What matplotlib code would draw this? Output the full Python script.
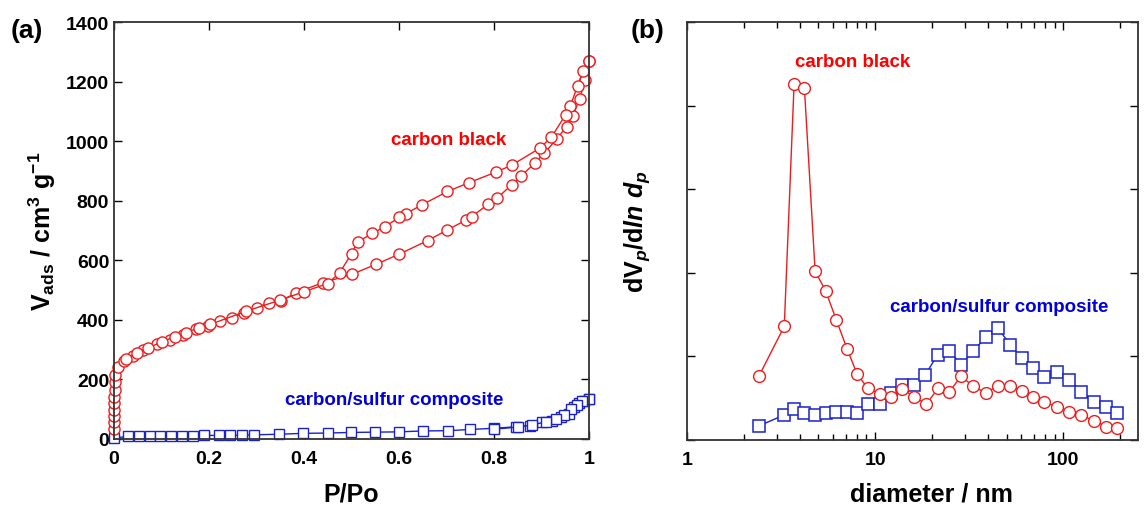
import matplotlib
matplotlib.use("Agg")
import matplotlib.pyplot as plt
from matplotlib.ticker import MultipleLocator, FixedLocator, NullFormatter, LogLocator

plt.rcParams['font.family'] = ['Liberation Sans', 'DejaVu Sans']
plt.rcParams['font.weight'] = 'bold'
plt.rcParams['mathtext.fontset'] = 'custom'
plt.rcParams['mathtext.rm'] = 'Liberation Sans:bold'
plt.rcParams['mathtext.bf'] = 'Liberation Sans:bold'
plt.rcParams['mathtext.it'] = 'Liberation Sans:bold:italic'

# ---------------- panel (a): N2 isotherms ----------------
p_cb_ads = [0.000, 0.000, 0.000, 0.001, 0.001, 0.001, 0.002, 0.002, 0.003, 0.009, 0.021,
            0.039, 0.062, 0.090, 0.118, 0.146, 0.173, 0.197, 0.224, 0.248, 0.274, 0.300,
            0.326, 0.352, 0.383, 0.440, 0.501, 0.551, 0.601, 0.660, 0.702, 0.741, 0.753,
            0.788, 0.806, 0.837, 0.857, 0.887, 0.906, 0.932, 0.953, 0.966, 0.980, 0.992, 0.999]
v_cb_ads = [34, 56, 76, 98, 120, 142, 166, 191, 215, 242, 263,
            280, 300, 318, 334, 350, 368, 379, 396, 407, 423, 440,
            458, 464, 491, 525, 553, 586, 621, 666, 702, 735, 746,
            789, 808, 853, 883, 928, 960, 1007, 1049, 1084, 1142, 1204, 1268]

p_cb_des = [0.999, 0.988, 0.976, 0.961, 0.951, 0.921, 0.897, 0.837, 0.804, 0.748, 0.702,
            0.648, 0.615, 0.601, 0.570, 0.544, 0.513, 0.500, 0.475, 0.450, 0.399, 0.349,
            0.278, 0.203, 0.179, 0.152, 0.129, 0.102, 0.072, 0.048, 0.026]
v_cb_des = [1268, 1236, 1186, 1119, 1089, 1014, 977, 919, 896, 861, 831,
            786, 757, 744, 713, 690, 662, 622, 558, 522, 494, 466,
            429, 385, 374, 357, 344, 327, 306, 289, 270]

p_cs_ads = [0.000, 0.030, 0.053, 0.076, 0.097, 0.120, 0.143, 0.167, 0.190, 0.220, 0.245,
            0.269, 0.294, 0.347, 0.398, 0.450, 0.499, 0.549, 0.600, 0.651, 0.704, 0.750,
            0.800, 0.846, 0.876, 0.902, 0.923, 0.941, 0.957, 0.969, 0.978, 0.990, 1.000]
v_cs_ads = [3, 9, 9, 10, 10, 11, 11, 11, 12, 12, 12,
            13, 14, 16, 19, 20, 22, 23, 24, 27, 28, 32,
            36, 41, 45, 56, 62, 74, 85, 107, 121, 129, 135]
p_cs_des = [1.000, 0.986, 0.975, 0.963, 0.948, 0.930, 0.910, 0.880, 0.850, 0.800]
v_cs_des = [135, 128, 113, 100, 82, 68, 58, 47, 40, 33]

# ---------------- panel (b): pore size distribution ----------------
d_cb = [2.42, 3.29, 3.71, 4.21, 4.80, 5.47, 6.21, 7.10, 8.02, 9.14, 10.6, 12.1, 13.9, 16.1,
        18.7, 21.7, 24.7, 28.6, 33.1, 38.8, 44.9, 52.3, 60.3, 69.2, 79.5, 92.9, 108, 125,
        145, 170, 194]
v_cb = [0.77, 1.36, 4.26, 4.21, 2.02, 1.78, 1.44, 1.09, 0.79, 0.62, 0.55, 0.52, 0.61, 0.52,
        0.43, 0.62, 0.57, 0.76, 0.65, 0.56, 0.65, 0.65, 0.59, 0.52, 0.45, 0.40, 0.34, 0.30,
        0.23, 0.16, 0.14]
d_cs = [2.42, 3.29, 3.72, 4.21, 4.80, 5.45, 6.21, 7.07, 8.05, 9.19, 10.6, 12.1, 13.9, 16.1,
        18.5, 21.5, 24.8, 28.7, 33.1, 38.8, 44.9, 52.3, 60.3, 69.2, 79.5, 92.9, 108, 125,
        145, 170, 194]
v_cs = [0.17, 0.30, 0.37, 0.32, 0.30, 0.32, 0.33, 0.33, 0.32, 0.43, 0.43, 0.56, 0.66, 0.66,
        0.78, 1.02, 1.07, 0.90, 1.06, 1.23, 1.34, 1.14, 0.98, 0.86, 0.75, 0.81, 0.72, 0.58,
        0.45, 0.39, 0.32]

RED = '#ee1c1c'
RED_T = '#ff0000'
BLUE = '#1a22cc'
BLUE_T = '#0000dd'
SPINE = '#333333'

fig = plt.figure(figsize=(11.45, 5.10), dpi=100)
axa = fig.add_axes([114/1145, 1-440/510, 475/1145, 417/510])
axb = fig.add_axes([687/1145, 1-441/510, 451/1145, 418/510])

for ax in (axa, axb):
    for s in ax.spines.values():
        s.set_color(SPINE)
        s.set_linewidth(1.3)
    ax.tick_params(which='both', direction='in', top=True, right=True,
                   labelsize=14, width=1.0, color='black')
    ax.tick_params(which='major', length=6)
    ax.tick_params(which='minor', length=4)

# panel (a)
kw_c = dict(marker='o', ms=8, mfc='white', mec=RED, mew=1.0, color=RED, lw=1.0, clip_on=False)
kw_s = dict(marker='s', ms=7.5, mfc='white', mec=BLUE, mew=1.0, color=BLUE, lw=1.0, clip_on=False)
axa.plot(p_cs_ads, v_cs_ads, **kw_s)
axa.plot(p_cs_des, v_cs_des, **kw_s)
axa.plot(p_cb_ads, v_cb_ads, **kw_c)
axa.plot(p_cb_des, v_cb_des, **kw_c)
axa.set_xlim(0, 1.0)
axa.set_ylim(0, 1400)
axa.set_xticks([0, 0.2, 0.4, 0.6, 0.8, 1.0])
axa.set_xticklabels(['0', '0.2', '0.4', '0.6', '0.8', '1'], fontweight='bold')
axa.set_yticks([0, 200, 400, 600, 800, 1000, 1200, 1400])
axa.set_yticklabels(['0', '200', '400', '600', '800', '1000', '1200', '1400'], fontweight='bold')
axa.tick_params(axis='x', pad=8)
axa.set_xlabel('P/Po', fontsize=18, fontweight='bold', labelpad=10)
axa.set_ylabel(r'V$_{\rm ads}$ / cm$^{3}$ g$^{-1}$', fontsize=18, fontweight='bold', labelpad=6)
axa.text(0.705, 1005, 'carbon black', color=RED_T, fontsize=13.5, fontweight='bold',
         ha='center', va='center')
axa.text(0.59, 131, 'carbon/sulfur composite', color=BLUE_T, fontsize=13.5, fontweight='bold',
         ha='center', va='center')
fig.text(27/1145, 1-31/510, '(a)', fontsize=19, fontweight='bold', ha='center', va='center')

# panel (b)
kwb_c = dict(marker='o', ms=8.5, mfc='white', mec=RED, mew=1.0, color=RED, lw=1.0, clip_on=False)
kwb_s = dict(marker='s', ms=8.5, mfc='white', mec=BLUE, mew=1.1, color=BLUE, lw=1.0, clip_on=False)
axb.plot(d_cs, v_cs, **kwb_s)
axb.plot(d_cb, v_cb, **kwb_c)
axb.set_xscale('log')
axb.set_xlim(1, 250)
axb.set_ylim(0, 5)
axb.xaxis.set_major_locator(FixedLocator([1, 10, 100]))
axb.set_xticklabels(['1', '10', '100'], fontweight='bold')
axb.xaxis.set_minor_locator(LogLocator(base=10, subs=range(2, 10)))
axb.xaxis.set_minor_formatter(NullFormatter())
axb.yaxis.set_major_locator(MultipleLocator(1))
axb.yaxis.set_major_formatter(NullFormatter())
axb.tick_params(axis='x', pad=8)
axb.set_xlabel('diameter / nm', fontsize=18, fontweight='bold', labelpad=10, x=0.543)
axb.set_ylabel(r'dV$_{\mathit{p}}$/d$\mathit{ln\ d}_{\mathit{p}}$', fontsize=18,
               fontweight='bold', labelpad=22)
axb.text(7.64, 4.53, 'carbon black', color=RED_T, fontsize=13.5, fontweight='bold',
         ha='center', va='center')
axb.text(45.7, 1.60, 'carbon/sulfur composite', color=BLUE_T, fontsize=13.5, fontweight='bold',
         ha='center', va='center')
fig.text(648/1145, 1-31/510, '(b)', fontsize=19, fontweight='bold', ha='center', va='center')

fig.savefig('out.png', dpi=100)
